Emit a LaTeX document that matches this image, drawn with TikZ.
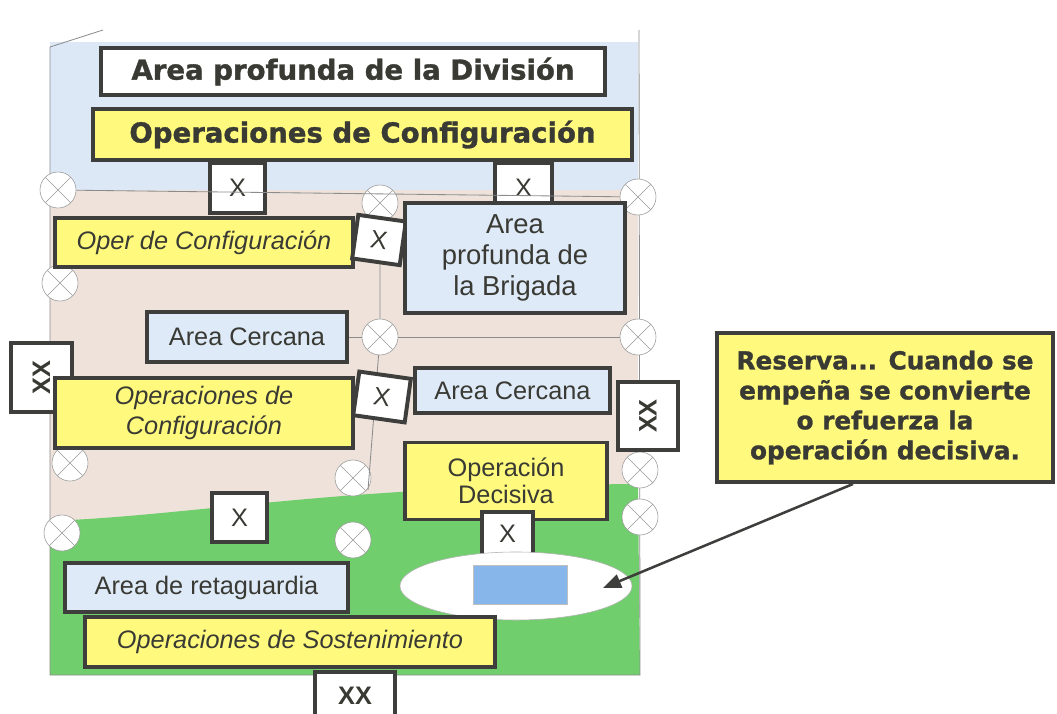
\documentclass[tikz,border=0pt]{standalone}
\usepackage{fontspec}
\setmainfont{Liberation Sans}
\newfontfamily\heavyfont{DejaVu Sans}[BoldFeatures={FakeBold=1.2}]
\usetikzlibrary{arrows.meta,shapes.geometric}

\definecolor{areablue}{RGB}{221,232,246}
\definecolor{areabeige}{RGB}{238,226,219}
\definecolor{areagreen}{RGB}{112,206,108}
\definecolor{boxyellow}{RGB}{255,250,125}
\definecolor{boxblue}{RGB}{222,234,248}
\definecolor{resblue}{RGB}{135,182,235}
\definecolor{edge}{RGB}{62,62,60}
\definecolor{ink}{RGB}{58,58,52}

\begin{document}
\begin{tikzpicture}[x=0.025cm, y=-0.025cm,
    lbl/.style={draw=edge, line width=2.8pt, align=center, inner sep=2pt, text=ink, font=\fontsize{18}{21}\selectfont},
    ybox/.style={lbl, fill=boxyellow},
    bbox/.style={lbl, fill=boxblue},
    wbox/.style={lbl, fill=white},
    heavy/.style={font=\heavyfont\bfseries\fontsize{19.6}{22}\selectfont},
    italic/.style={font=\fontsize{18}{21}\selectfont\itshape},
    bold/.style={font=\bfseries\fontsize{18}{21}\selectfont},
    unit/.style={wbox, minimum width=1.375cm, minimum height=1.25cm},
    cpt/.style={circle, draw=black!40, fill=white, minimum size=0.9cm, inner sep=0pt,
        path picture={\draw[black!40] (path picture bounding box.north west) -- (path picture bounding box.south east)
            (path picture bounding box.north east) -- (path picture bounding box.south west);}},
    fline/.style={draw=black!45, line width=0.6pt},
    arr/.style={-{Triangle[length=0.45cm, width=0.35cm]}, line width=1.8pt, edge},
]
\useasboundingbox (0,0) rectangle (1057,714);

% Zones
\fill[areablue] (50,42) rectangle (638,190);
\fill[areabeige] (50,190) rectangle (638,521);
\fill[areagreen] (50,521) .. controls (200,515) and (330,486) .. (638,484) -- (640,675) -- (50,675) -- cycle;
\draw[fline] (103,30) -- (50,47) -- (50,675) -- (640,675) -- (639,30);

% Boundary points
\node[cpt] (c1) at (58,190) {};
\node[cpt] (c2) at (638,197) {};
\node[cpt] (c3) at (380,203) {};
\node[cpt] (c4) at (60,283) {};
\node[cpt] (c5) at (380,337) {};
\node[cpt] (c6) at (638,337) {};
\node[cpt] (c7) at (70,463) {};
\node[cpt] (c8) at (353,478) {};
\node[cpt] (c9) at (640,470) {};
\node[cpt] (c10) at (62,533) {};
\node[cpt] (c11) at (353,540) {};
\node[cpt] (c12) at (640,517) {};
\coordinate (midEnd) at (368,490);

% Division
\node[wbox, heavy, minimum width=12.6cm, minimum height=1.175cm] (div) at (353,71.5) {Area profunda de la División};
\node[ybox, heavy, minimum width=13.475cm, minimum height=1.275cm] (divcfg) at (362.5,134.5) {Operaciones de Configuración};
\node[unit] (xA) at (237.5,188) {X};
\node[unit, minimum width=1.425cm] (xB) at (523.5,188) {X};

% Brigade areas
\node[bbox, minimum width=5cm, minimum height=1.25cm] (nearA) at (247,337) {Area Cercana};
\draw[fline] (c1) -- (c2);
\draw[fline] (c3) -- (c5) -- (midEnd);
\draw[fline] (nearA) -- (c5) -- (c6);

\node[ybox, italic, minimum width=7.45cm, minimum height=1.225cm] (brcfgA) at (204,242.5) {Oper de Configuración};
\node[wbox, minimum width=1.2cm, minimum height=1.1cm, rotate=-8] (xtA) at (379,240) {X};
\node[bbox, font=\fontsize{19.5}{22}\selectfont, minimum width=5.5cm, minimum height=2.75cm] (brdeep) at (515,258) {Area\\profunda de\\la Brigada};
\node[wbox, bold, minimum width=1.525cm, minimum height=1.725cm] (xxL) at (41.5,377.5) {\rotatebox{90}{XX}};
\node[ybox, italic, minimum width=7.45cm, minimum height=1.75cm] (brcfgB) at (204,413) {Operaciones de\\Configuración};
\node[wbox, minimum width=1.3cm, minimum height=1.1cm, rotate=-8] (xtB) at (382,397) {X};
\node[bbox, minimum width=4.875cm, minimum height=1.125cm] (nearB) at (512.5,390.5) {Area Cercana};
\node[wbox, bold, minimum width=1.5cm, minimum height=1.7cm] (xxR) at (648,416) {\rotatebox{90}{XX}};
\node[ybox, font=\fontsize{18}{19.5}\selectfont, minimum width=5.05cm, minimum height=1.925cm] (decis) at (506,481) {Operación\\Decisiva};
\node[unit, minimum height=1.225cm] (xC) at (239.5,517.5) {X};
\node[unit, minimum width=1.275cm, minimum height=1.1cm] (xD) at (507.5,534) {X};

% Rear area
\node[ellipse, draw=black!30, fill=white, minimum width=5.8cm, minimum height=1.7cm] (resv) at (516,586) {};
\node[draw=black!25, fill=resblue, minimum width=2.35cm, minimum height=0.975cm, inner sep=0pt] (resunit) at (520,584.5) {};
\node[bbox, minimum width=7.075cm, minimum height=1.225cm] (rear) at (206.5,587.5) {Area de retaguardia};
\node[ybox, italic, minimum width=10.25cm, minimum height=1.25cm] (sust) at (290,642) {Operaciones de Sostenimiento};
\node[wbox, bold, minimum width=2cm, minimum height=1.2cm] (xxB) at (355,696) {XX};

% Reserve note
\node[ybox, font=\heavyfont\bfseries\fontsize{17.6}{21.3}\selectfont, minimum width=8.4cm, minimum height=3.725cm] (note) at (885,407.5) {Reserva... Cuando se\\empeña se convierte\\o refuerza la\\operación decisiva.};
\coordinate (aim) at (603,588);
\draw[arr] ([xshift=-0.8cm]note.south) -- (aim);

\end{tikzpicture}
\end{document}
